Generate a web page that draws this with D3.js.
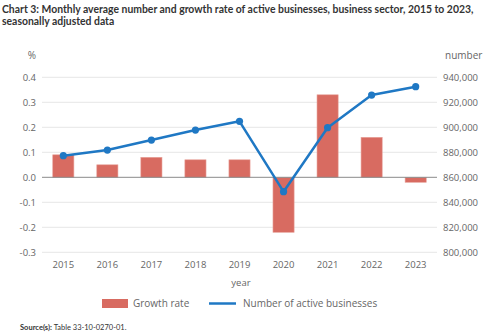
<!DOCTYPE html>
<html><head><meta charset="utf-8">
<script src="https://cdn.jsdelivr.net/npm/d3@7"></script>
<style>
html,body{margin:0;padding:0;background:#fff;}
svg{display:block;}
</style></head>
<body>
<svg id="c" width="500" height="334"></svg>
<script>
const years = ["2015","2016","2017","2018","2019","2020","2021","2022","2023"];
const growthRate = [0.09, 0.05, 0.08, 0.07, 0.07, -0.22, 0.33, 0.16, -0.02];
const activeBusinesses = [877300, 881800, 889800, 897800, 904800, 848500, 899700, 925800, 932500];
const leftTicks = [-0.3, -0.2, -0.1, 0.0, 0.1, 0.2, 0.3, 0.4];
const rightTicks = [800000, 820000, 840000, 860000, 880000, 900000, 920000, 940000];

const svg = d3.select("#c");
const tickFont = "'Open Sans', 'Noto Sans', sans-serif";
const titleFont = "Lato, 'Open Sans', sans-serif";

const x = d3.scaleBand().domain(years).range([41.3, 437.7]).paddingInner(0.52).paddingOuter(0.26);
const yL = d3.scaleLinear().domain([-0.3, 0.4]).range([252.3, 77.3]);
const yR = d3.scaleLinear().domain([800000, 940000]).range([252.3, 77.3]);

// title
const title = svg.append("text").attr("font-family", titleFont).attr("font-weight", "bold")
  .attr("font-size", 10.4).attr("fill", "#333");
title.append("tspan").attr("x", 2).attr("y", 13).text("Chart 3: Monthly average number and growth rate of active businesses, business sector, 2015 to 2023,");
title.append("tspan").attr("x", 2).attr("y", 24.5).text("seasonally adjusted data");

// gridlines
svg.append("g").selectAll("line").data(leftTicks.filter(d => d !== 0)).join("line")
  .attr("x1", 42).attr("x2", 437).attr("y1", d => yL(d)).attr("y2", d => yL(d))
  .attr("stroke", "#e6e6e6").attr("stroke-width", 1);

// left axis
const axL = d3.axisLeft(yL).tickValues(leftTicks).tickFormat(d3.format(".1f")).tickSize(0).tickPadding(6);
const gL = svg.append("g").attr("transform", "translate(42,0)").call(axL);
gL.select(".domain").remove();
gL.selectAll("text").attr("font-family", tickFont).attr("font-size", 9.5).attr("fill", "#666")
  .text(d => d3.format(".1f")(d).replace("−", "-"));

// right axis
const axR = d3.axisRight(yR).tickValues(rightTicks).tickFormat(d3.format(",")).tickSize(0).tickPadding(6);
const gR = svg.append("g").attr("transform", "translate(437,0)").call(axR);
gR.select(".domain").remove();
gR.selectAll("text").attr("font-family", tickFont).attr("font-size", 9.5).attr("fill", "#666");

// x axis labels
const axX = d3.axisBottom(x).tickSize(0).tickPadding(7);
const gX = svg.append("g").attr("transform", "translate(0,254)").call(axX);
gX.select(".domain").remove();
gX.selectAll("text").attr("font-family", tickFont).attr("font-size", 9.5).attr("fill", "#666");

// axis titles
svg.append("text").attr("x", 32).attr("y", 59).attr("text-anchor", "middle")
  .attr("font-family", tickFont).attr("font-size", 10).attr("fill", "#666").text("%");
svg.append("text").attr("x", 445).attr("y", 59)
  .attr("font-family", tickFont).attr("font-size", 10).attr("fill", "#666").text("number");
svg.append("text").attr("x", 241).attr("y", 286).attr("text-anchor", "middle")
  .attr("font-family", tickFont).attr("font-size", 9.5).attr("fill", "#666").text("year");

// bars
svg.append("g").selectAll("rect").data(years).join("rect")
  .attr("x", d => x(d)).attr("width", x.bandwidth())
  .attr("y", (d, i) => Math.min(yL(growthRate[i]), yL(0)))
  .attr("height", (d, i) => Math.abs(yL(growthRate[i]) - yL(0)))
  .attr("fill", "#d86b61").attr("stroke", "#e8a39c").attr("stroke-width", 0.6);

// zero line
svg.append("line").attr("x1", 42).attr("x2", 437).attr("y1", yL(0)).attr("y2", yL(0))
  .attr("stroke", "#8a8a8a").attr("stroke-width", 1);

// line
const line = d3.line().x((d, i) => x(years[i]) + x.bandwidth() / 2).y(d => yR(d));
svg.append("path").datum(activeBusinesses).attr("d", line)
  .attr("fill", "none").attr("stroke", "#1f78c4").attr("stroke-width", 2.5).attr("stroke-linejoin", "round");
svg.append("g").selectAll("circle").data(activeBusinesses).join("circle")
  .attr("cx", (d, i) => x(years[i]) + x.bandwidth() / 2).attr("cy", d => yR(d)).attr("r", 3.6)
  .attr("fill", "#1f78c4");

// legend
svg.append("rect").attr("x", 102).attr("y", 299).attr("width", 26).attr("height", 9).attr("fill", "#d86b61");
svg.append("text").attr("x", 133).attr("y", 307).attr("font-family", tickFont).attr("font-size", 10)
  .attr("fill", "#666").text("Growth rate");
svg.append("line").attr("x1", 209).attr("x2", 236).attr("y1", 303.5).attr("y2", 303.5)
  .attr("stroke", "#1f78c4").attr("stroke-width", 2.5);
svg.append("text").attr("x", 243).attr("y", 307).attr("font-family", tickFont).attr("font-size", 10)
  .attr("fill", "#666").text("Number of active businesses");

// source
const src = svg.append("text").attr("x", 20).attr("y", 330).attr("font-family", titleFont)
  .attr("font-size", 7.5).attr("fill", "#333");
src.append("tspan").attr("font-weight", "bold").text("Source(s):");
src.append("tspan").text(" Table 33-10-0270-01.");
</script>
</body></html>
